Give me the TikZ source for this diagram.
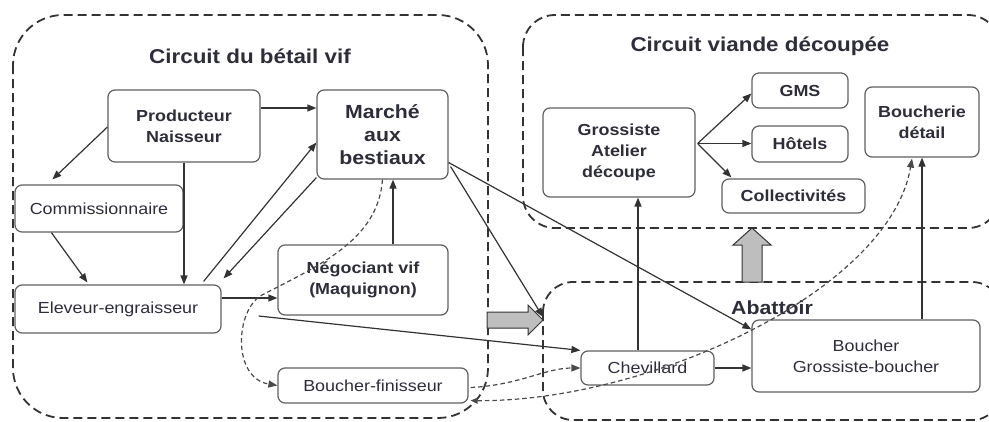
\documentclass[tikz,border=0pt]{standalone}
\usepackage{fontspec}
\setmainfont{Liberation Sans}[FakeStretch=1.12]
\usetikzlibrary{arrows.meta,calc}
\definecolor{ink}{HTML}{2E2E3A}
\definecolor{edgec}{HTML}{606060}
\definecolor{linec}{HTML}{333333}
\definecolor{dashc}{HTML}{4A4A4A}
\definecolor{blockc}{HTML}{BEBEBE}
\begin{document}
\begin{tikzpicture}[x=1pt,y=-1pt,
  box/.style={draw=edgec,line width=1.2pt,rounded corners=7pt,align=center,
    text=ink,inner sep=0pt,font=\fontsize{16}{21}\selectfont},
  boxb/.style={box,font=\fontsize{16}{21}\selectfont\bfseries},
  cont/.style={draw=linec,line width=1.8pt,dash pattern=on 9pt off 5pt},
  ttl/.style={font=\fontsize{20}{24}\selectfont\bfseries,text=ink,inner sep=0pt},
  arr/.style={draw=linec,line width=1.2pt,-{Triangle[length=9pt,width=7pt]}},
  darr/.style={draw=dashc,line width=1.2pt,dash pattern=on 4.5pt off 3pt,
    -{Triangle[length=9pt,width=7pt]}},
  blk/.style={draw=linec,line width=1pt,fill=blockc,line join=miter}]
\clip (0,0) rectangle (989,421);
\fill[white] (0,0) rectangle (989,421);
% containers
\draw[cont,rounded corners=50pt] (13,15) rectangle (488,418);
\draw[cont,rounded corners=32pt] (523,15) rectangle (1000,228);
\draw[cont,rounded corners=30pt] (543,282) rectangle (1002,420);
% titles
\node[ttl] (t1) at (250,56) {Circuit du bétail vif};
\node[ttl] (t2) at (760,46) {Circuit viande découpée};
\node[ttl,font=\fontsize{19}{23}\selectfont\bfseries] (t3) at (772,308) {Abattoir};
% block arrows
\draw[blk] (487,312) -- (528,312) -- (528,305) -- (543,320) -- (528,335) -- (528,328) -- (487,328) -- cycle;
\draw[blk] (742,282) -- (742,245) -- (733,245) -- (752,228) -- (771,245) -- (762,245) -- (762,282) -- cycle;
% nodes
\node[boxb,minimum width=152pt,minimum height=72pt] (prod) at (184,126) {Producteur\\Naisseur};
\node[box,minimum width=131pt,minimum height=89pt,font=\fontsize{19}{23}\selectfont\bfseries] (march) at (382.5,134.5) {Marché\\aux\\bestiaux};
\node[box,minimum width=168pt,minimum height=47pt] (comm) at (99,208.5) {Commissionnaire};
\node[box,minimum width=206pt,minimum height=48pt] (elev) at (118,309) {Eleveur-engraisseur};
\node[boxb,minimum width=170pt,minimum height=70pt] (nego) at (363,280) {Négociant vif\\(Maquignon)};
\node[box,minimum width=190pt,minimum height=35pt] (bfin) at (373,385.5) {Boucher-finisseur};
\node[boxb,minimum width=152pt,minimum height=89pt] (gross) at (619,152.5) {Grossiste\\Atelier\\découpe};
\node[boxb,minimum width=96pt,minimum height=35pt] (gms) at (800,90.5) {GMS};
\node[boxb,minimum width=96pt,minimum height=36pt] (hotel) at (800,144) {Hôtels};
\node[boxb,minimum width=143pt,minimum height=34pt] (coll) at (793.5,196) {Collectivités};
\node[boxb,minimum width=114pt,minimum height=70pt] (bdet) at (922,122) {Boucherie\\détail};
\node[box,minimum width=133pt,minimum height=34pt] (chev) at (647.5,368) {Chevillard};
\node[box,minimum width=228pt,minimum height=72pt] (bouch) at (866,356) {Boucher\\Grossiste-boucher};
% helper coordinates
\coordinate (abtip) at (543,317);
\coordinate (estart) at ($(elev.east)+(37,7)$);
% solid connectors
\draw[arr] ($(prod.east)+(0,-18)$) coordinate (pm) -- (march.west |- pm);
\draw[arr] ($(prod.west)+(0,1)$) -- ($(comm.north west)+(38,-5)$);
\draw[arr] (prod.south) -- (elev.north -| prod.south);
\draw[arr] ($(comm.south west)+(37,0)$) -- ($(elev.north west)+(73,-2)$);
\draw[arr] ($(elev.north east)+(-18,-3)$) -- ($(march.west)+(0,8)$);
\draw[arr] ($(march.south west)+(0,-2)$) -- ($(elev.north east)+(2,-6)$);
\draw[arr] ($(elev.east)+(0,-11)$) coordinate (en) -- (nego.west |- en);
\draw[arr] ($(nego.north)+(30,0)$) coordinate (nm) -- (march.south -| nm);
\draw[arr] (estart) -- (chev.north west);
\draw[arr] ($(march.east)+(0,28)$) -- ($(bouch.north west)+(0,10)$);
\draw[arr] ($(march.south east)+(2,-13)$) -- (abtip);
\draw[arr] ($(chev.north)+(-9.5,0)$) coordinate (cg) -- (gross.south -| cg);
\draw[arr] (chev.east) -- (bouch.west |- chev.east);
\draw[arr] (bdet.south |- bouch.north) -- (bdet.south);
\draw[arr] ($(gross.east)+(2,-9)$) coordinate (g0) -- ($(gms.west)+(0,3)$);
\draw[arr] (g0) -- (hotel.west |- g0);
\draw[arr] (g0) -- ($(coll.north west)+(10,-1)$);
% dashed connectors
\draw[darr] (march.south) .. controls (378,240) and (320,265) .. (262,295)
  .. controls (235,310) and (232,378) .. (bfin.west);
\draw[darr] ($(bfin.east)+(2,2)$) .. controls (520,385) and (545,368) .. (chev.west);
\draw[darr,{Triangle[length=7pt,width=6pt]}-{Triangle[length=9pt,width=7pt]}] ($(bfin.south east)+(2,-3)$) .. controls (650,402) and (890,290) .. ($(bdet.south)+(-10,1)$);
\end{tikzpicture}
\end{document}
